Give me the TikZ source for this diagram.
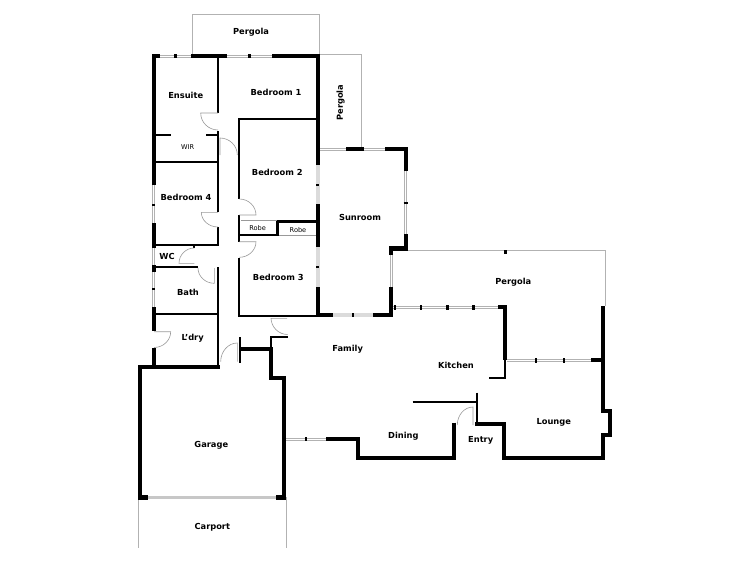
\documentclass[tikz,border=0pt]{standalone}
\usepackage{fontspec}
\setmainfont{DejaVu Sans}
\usetikzlibrary{calc}
\tikzset{
  wall/.style={line width=4.2pt, black, miter limit=10},
  thinwall/.style={line width=2pt, black},
  tick/.style={line width=2.4pt, black},
  window/.style={line width=1pt, draw=black!30, double=white, double distance=1pt},
  glass/.style={line width=4pt, black!14},
  shutter/.style={line width=3.4pt, black!22},
  swing/.style={line width=0.6pt, black!40},
  outline/.style={line width=0.8pt, black!30},
  room/.style={font=\fontsize{8.3}{10}\selectfont\bfseries, inner sep=0pt},
  small/.style={font=\fontsize{6.6}{8}\selectfont, inner sep=0pt}
}
% hinge, open end of the leaf, jamb
\newcommand{\doorswing}[3]{
  \coordinate (hinge) at (#1);
  \coordinate (leaf) at (#2);
  \coordinate (jamb) at (#3);
  \coordinate (corner) at ($(leaf)+(jamb)-(hinge)$);
  \draw[swing] (hinge) -- (leaf) .. controls ($(leaf)!.55!(corner)$) and ($(jamb)!.55!(corner)$) .. (jamb);
}
\begin{document}
\begin{tikzpicture}[x=1pt, y=-1pt]
    \useasboundingbox (0,0) rectangle (750,562);

    % Pergolas and carport
    \draw[outline] (192.7,54) -- (192.7,14) -- (319.3,14) -- (319.3,54);
    \draw[outline] (320,54) -- (361.7,54) -- (361.7,149);
    \draw[outline] (393,250) -- (605.7,250) -- (605.7,306);
    \draw[outline] (138.7,497) -- (138.7,547.7);
    \draw[outline] (286,497) -- (286,547.7);

    % Windows
    \draw[window] (160,56) -- (191,56);
    \draw[window] (227,56) -- (272,56);
    \draw[window] (153.7,185) -- (153.7,223);
    \draw[window] (153.7,248) -- (153.7,265);
    \draw[window] (153.7,272) -- (153.7,307);
    \draw[window] (320,149.3) -- (346,149.3);
    \draw[window] (364,149.3) -- (385,149.3);
    \draw[window] (405.7,171) -- (405.7,234);
    \draw[window] (391,253) -- (391,287);
    \draw[window] (393,307.3) -- (498,307.3);
    \draw[window] (507,360) -- (591,360);
    \draw[window] (286,439) -- (326,439);

    % Fixed glazing and garage door
    \draw[glass] (317.7,165) -- (317.7,204);
    \draw[glass] (317.7,247) -- (317.7,287);
    \draw[glass] (333,315) -- (373,315);
    \draw[shutter] (148,497.5) -- (276,497.5);

    % Outer walls
    \draw[wall] (153.7,185) -- (153.7,56) -- (160,56);
    \draw[wall] (191,56) -- (227,56);
    \draw[wall] (272,56) -- (317.7,56) -- (317.7,165);
    \draw[wall] (317.7,204) -- (317.7,247);
    \draw[wall] (317.7,287) -- (317.7,315) -- (333,315);
    \draw[wall] (373,315) -- (391,315) -- (391,287);
    \draw[wall] (391,255) -- (391,248.5) -- (405.7,248.5) -- (405.7,234);
    \draw[wall] (405.7,171) -- (405.7,149.3) -- (385,149.3);
    \draw[wall] (364,149.3) -- (346,149.3);
    \draw[wall] (153.7,223) -- (153.7,248);
    \draw[wall] (153.7,265) -- (153.7,272);
    \draw[wall] (153.7,307) -- (153.7,331);
    \draw[wall] (153.7,348) -- (153.7,367);
    \draw[wall] (219.5,367) -- (140.3,367) -- (140.3,497.5) -- (148,497.5);
    \draw[wall] (276,497.5) -- (284.3,497.5) -- (284.3,378) -- (271,378) -- (271,349.3) -- (240,349.3);
    \draw[wall] (498,307.3) -- (505.3,307.3) -- (505.3,360);
    \draw[wall] (591,360) -- (603.3,360);
    \draw[wall] (603.3,306) -- (603.3,410.7) -- (610,410.7) -- (610,435) -- (603.3,435) -- (603.3,457.7) -- (504,457.7) -- (504,424) -- (475,424);
    \draw[wall] (454,422.7) -- (454,458) -- (358.3,458) -- (358.3,439) -- (326,439);

    % Inner walls
    \draw[thinwall] (218,56) -- (218,113);
    \draw[thinwall] (218,131) -- (218,212);
    \draw[thinwall] (218,227) -- (218,245) -- (153.7,245);
    \draw[thinwall] (155,134.7) -- (171,134.7);
    \draw[thinwall] (206,134.7) -- (218,134.7);
    \draw[thinwall] (154,162) -- (218,162);
    \draw[thinwall] (316,118.5) -- (239.3,118.5) -- (239.3,199);
    \draw[thinwall] (239.3,215) -- (239.3,241.5);
    \draw[wall, line width=2.6pt] (239.3,235) -- (277.7,235) -- (277.7,221.7) -- (316,221.7);
    \draw[thinwall] (239.3,258) -- (239.3,316) -- (318,316);
    \draw[thinwall] (194.3,244) -- (194.3,248);
    \draw[thinwall] (154,267.3) -- (198,267.3);
    \draw[thinwall] (217.5,267) -- (217.5,367);
    \draw[thinwall] (154,314) -- (218,314);
    \draw[thinwall] (239.5,337) -- (239.5,362.7);
    \draw[thinwall] (287.7,336.7) -- (271,336.7) -- (271,350);
    \draw[thinwall] (476.7,392.7) -- (476.7,425);
    \draw[thinwall] (412.7,402.3) -- (476.7,402.3);
    \draw[thinwall] (489,378) -- (505.3,378) -- (505.3,355);

    % Robe fronts
    \draw[swing] (241,220.7) -- (277,220.7);
    \draw[swing] (279,235.7) -- (316,235.7);

    % Door swings
    \doorswing{218,113}{200.7,113}{218,130}
    \doorswing{220,155}{220,138}{237.3,155}
    \doorswing{239.3,215}{256,215}{239.3,199}
    \doorswing{218,212.3}{201.3,212.3}{218,227}
    \doorswing{239.3,241.7}{256,241.7}{239.3,257.3}
    \doorswing{194.3,263.3}{179,263.3}{194.3,248}
    \doorswing{214.3,268}{214.3,283.3}{198,268}
    \doorswing{154,331.7}{170.7,331.7}{154,347.5}
    \doorswing{237.3,361.7}{237.3,343}{220.7,361.7}
    \doorswing{287,318.3}{271,318.3}{287.5,334.5}
    \doorswing{473,425}{473,407}{457.3,425}

    % Mullions
    \foreach \ypos in {185,267} \draw[tick] (316,\ypos) -- (319.4,\ypos);
    \foreach \ypos in {205,289} \draw[tick] (152,\ypos) -- (155.4,\ypos);
    \foreach \xpos in {421,447.5,473.5} \draw[tick] (\xpos,305) -- (\xpos,309.5);
    \foreach \xpos in {536,564} \draw[tick] (\xpos,358) -- (\xpos,362.5);
    \draw[tick] (175.5,54) -- (175.5,58);
    \draw[tick] (249.5,54) -- (249.5,58);
    \draw[tick] (353,313) -- (353,317);
    \draw[tick] (306,437) -- (306,441);
    \draw[tick] (403.5,202.7) -- (407.8,202.7);
    \draw[tick] (395,305) -- (395,309.5);
    \draw[tick] (505.3,250) -- (505.3,254);

    % Room names
    \node[room] (pergolaA) at (251,32.7) {Pergola};
    \node[room, rotate=90] (pergolaB) at (340.7,102.7) {Pergola};
    \node[room] (pergolaC) at (513.3,282.7) {Pergola};
    \node[room] (ensuite) at (185.7,95.3) {Ensuite};
    \node[room] (bedroomA) at (276,92.3) {Bedroom 1};
    \node[small] (wir) at (187.7,146.7) {WIR};
    \node[room] (bedroomB) at (277.3,172.7) {Bedroom 2};
    \node[room] (bedroomD) at (186,197.7) {Bedroom 4};
    \node[small] (robeA) at (257.7,227.7) {Robe};
    \node[small] (robeB) at (298,229.7) {Robe};
    \node[room] (wc) at (167,256) {WC};
    \node[room] (bedroomC) at (278.3,277) {Bedroom 3};
    \node[room] (bath) at (188,292.7) {Bath};
    \node[room] (laundry) at (192.7,338.7) {L'dry};
    \node[room] (sunroom) at (360,217.3) {Sunroom};
    \node[room] (family) at (347.7,349) {Family};
    \node[room] (kitchen) at (456,365.7) {Kitchen};
    \node[room] (dining) at (403.3,436) {Dining};
    \node[room] (entry) at (480.7,440) {Entry};
    \node[room] (lounge) at (553.7,422.3) {Lounge};
    \node[room] (garage) at (211.3,445.7) {Garage};
    \node[room] (carport) at (212.3,527.7) {Carport};
\end{tikzpicture}
\end{document}
